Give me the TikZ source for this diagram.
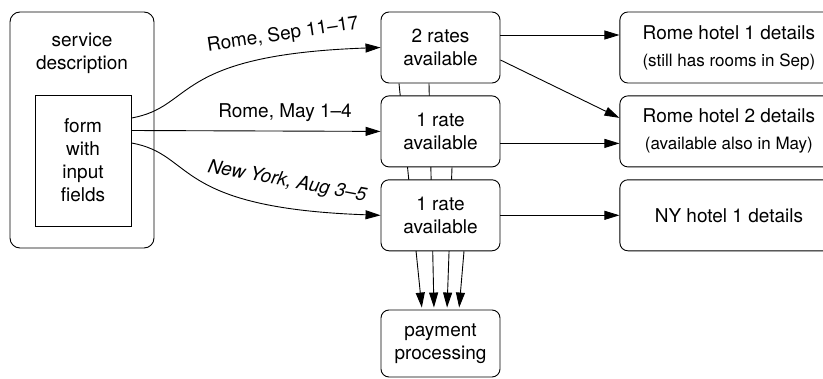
\documentclass[tikz,border=0pt]{standalone}
\usepackage{fontspec}
\setmainfont{TeX Gyre Heros}
\usepackage{tikz}
\usetikzlibrary{arrows.meta}
\usetikzlibrary{positioning}
\usetikzlibrary{backgrounds}

\newcommand{\smalltxt}{\fontsize{17}{20}\selectfont}

\begin{document}
\begin{tikzpicture}[x=1pt,y=1pt,
    line width=0.9pt,
    every node/.style={font=\fontsize{19}{23}\selectfont, align=center},
    box/.style={draw, fill=white, line width=0.9pt, rounded corners=8pt, minimum width=119pt, minimum height=71pt, inner sep=2pt},
    hotel/.style={box, minimum width=218pt},
    arr/.style={line width=0.9pt, -{Triangle[length=15pt,width=9pt]}}]
        \useasboundingbox (0,0) rectangle (823,-378);
        \node[draw, rounded corners=10pt, minimum width=144pt, minimum height=236pt] (svc) at (82,-130) {};
        \node[below=21pt of svc.north, inner sep=0pt] (svclbl) {service\\description};
        \node[draw, minimum width=96pt, minimum height=131pt] (form) at (83,-160.5) {form\\with\\input\\fields};

        \node[box] (r1) at (440.5,-47.5) {2 rates\\available};
        \node[box, below=12pt of r1] (r2) {1 rate\\available};
        \node[box, below=12pt of r2] (r3) {1 rate\\available};
        \node[box, minimum height=67pt] (pay) at (440.5,-343.5) {payment\\processing};

        \node[hotel, right=119pt of r1] (h1) {Rome hotel 1 details\\[4pt]{\smalltxt (still has rooms in Sep)}};
        \node[hotel, right=119pt of r2] (h2) {Rome hotel 2 details\\[4pt]{\smalltxt (available also in May)}};
        \node[hotel, right=119pt of r3] (h3) {NY hotel 1 details};

        \draw[arr] ([yshift=42.5pt]form.east) .. controls +(10:65) and +(182:210) .. (r1.west);
        \draw[arr] ([yshift=30pt]form.east) -- (r2.west);
        \draw[arr] ([yshift=17.5pt]form.east) .. controls +(-10:65) and +(178:210) .. (r3.west);
        \node[rotate=8.5, inner sep=0pt] (lsep) at (283,-35) {Rome, Sep 11–17};
        \node[inner sep=0pt] (lmay) at (285,-113) {Rome, May 1–4};
        \node[rotate=-10.5, inner sep=0pt, font=\fontsize{19}{23}\selectfont\itshape] (lny) at (287,-182) {New York, Aug 3–5};

        \draw[arr] ([yshift=12.5pt]r1.east) -- ([yshift=12.5pt]h1.west);
        \draw[arr] ([yshift=-12.5pt]r1.east) -- ([yshift=13.5pt]h2.west);
        \draw[arr] ([yshift=-12pt]r2.east) -- ([yshift=-12pt]h2.west);
        \draw[arr] (r3.east) -- (h3.west);

        \begin{pgfonlayer}{background}
        \draw[arr, shorten >=2pt] ([xshift=-41.5pt]r1.south) -- ([xshift=-18.5pt]pay.north);
        \draw[arr, shorten >=2pt] ([xshift=-11.5pt]r1.south) -- ([xshift=-6.5pt]pay.north);
        \draw[arr, shorten >=2pt] ([xshift=11.5pt]r2.south) -- ([xshift=6.5pt]pay.north);
        \draw[arr, shorten >=2pt] ([xshift=23.5pt]r3.south) -- ([xshift=18.5pt]pay.north);
        \end{pgfonlayer}
    \end{tikzpicture}
\end{document}
